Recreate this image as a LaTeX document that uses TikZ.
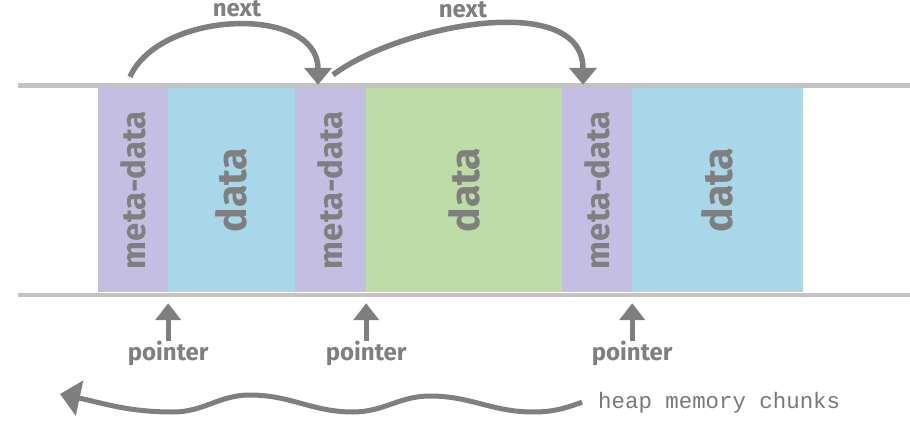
\documentclass[tikz,border=0pt]{standalone}
\usepackage{fontspec}
\usepackage{xcolor}
\usepackage{tikz}
\usetikzlibrary{positioning}
\usetikzlibrary{arrows.meta}
\setmainfont{Fira Sans}
\newfontfamily\heapfont{Liberation Mono}
\definecolor{metacol}{HTML}{C4BEE2}
\definecolor{bluecol}{HTML}{A8D7E9}
\definecolor{greencol}{HTML}{BEDCA8}
\definecolor{railcol}{HTML}{C3C3C3}
\definecolor{inkcol}{HTML}{7F7F7F}
\definecolor{heapcol}{HTML}{787878}
\tikzstyle{chunk}=[rectangle,inner sep=0pt,minimum height=204pt,text=inkcol,font=\bfseries]
\tikzstyle{rail}=[draw=railcol,line width=4.5pt]
\tikzstyle{link}=[draw=inkcol,line width=5.5pt,-{Triangle[width=27pt,length=17pt]}]
\tikzstyle{ptr}=[draw=inkcol,line width=5pt,-{Triangle[width=25pt,length=17pt]}]
\tikzstyle{wave}=[draw=inkcol,line width=5pt,-{Triangle[width=35pt,length=20pt]}]
\tikzstyle{lbl}=[text=inkcol,inner sep=0pt,font=\bfseries\fontsize{24}{24}\selectfont]
\tikzset{heaptext/.style={inner sep=0pt,text=heapcol,font=\heapfont\fontsize{22.4}{22.4}\selectfont}}

\begin{document}
\begin{tikzpicture}[x=1pt,y=-1pt]

  \useasboundingbox (0,0) rectangle (910,422);

  % rails
  \draw[rail] (18,85.5) -- (910,85.5);
  \draw[rail] (18,295) -- (910,295);

  % chunks
  \foreach \x/\w/\name/\col/\size/\label in {133/70/m1/metacol/33/meta-data, 231.5/127/d1/bluecol/41/data,
                                            330.5/71/m2/metacol/33/meta-data, 464/196/d2/greencol/41/data,
                                            597/70/m3/metacol/33/meta-data, 717.5/171/d3/bluecol/41/data}
          \node[chunk,fill=\col,minimum width=\w pt] (\name) at (\x,190) {\fontsize{\size}{\size}\selectfont\rotatebox{90}{\label}};

  % next links
  \node[lbl,anchor=base] (next1) at (237,17) {next};
  \node[lbl,anchor=base] (next2) at (463,18) {next};
  \draw[link] ([xshift=-3pt,yshift=11pt]m1.north) .. controls +(30,-67) and +(0,-80) .. ([xshift=-12.5pt,yshift=3pt]m2.north);
  \draw[link] ([xshift=2.5pt,yshift=13pt]m2.north) .. controls +(67,-50) and +(0,-95) .. ([xshift=-14pt,yshift=3pt]m3.north);

  % pointers
  \foreach \m/\p in {m1/p1, m2/p2, m3/p3}
  {
          \node[lbl,below=49pt of \m.south east] (\p) {pointer};
          \draw[ptr] (\p.north) -- ([yshift=-11pt]\m.south east);
  }

  % heap memory
  \node[heaptext,anchor=base west] (heap) at (598,408) {heap memory chunks};
  \coordinate (wtip) at (60,394);
  \draw[wave] ([xshift=-16pt]heap.west) to[out=200,in=0] (533,412) to[out=180,in=0] (430,396)
        to[out=180,in=0] (353,412) to[out=180,in=0] (250,395) to[out=180,in=0] (173,412) to[out=180,in=-12] (wtip);

\end{tikzpicture}
\end{document}
